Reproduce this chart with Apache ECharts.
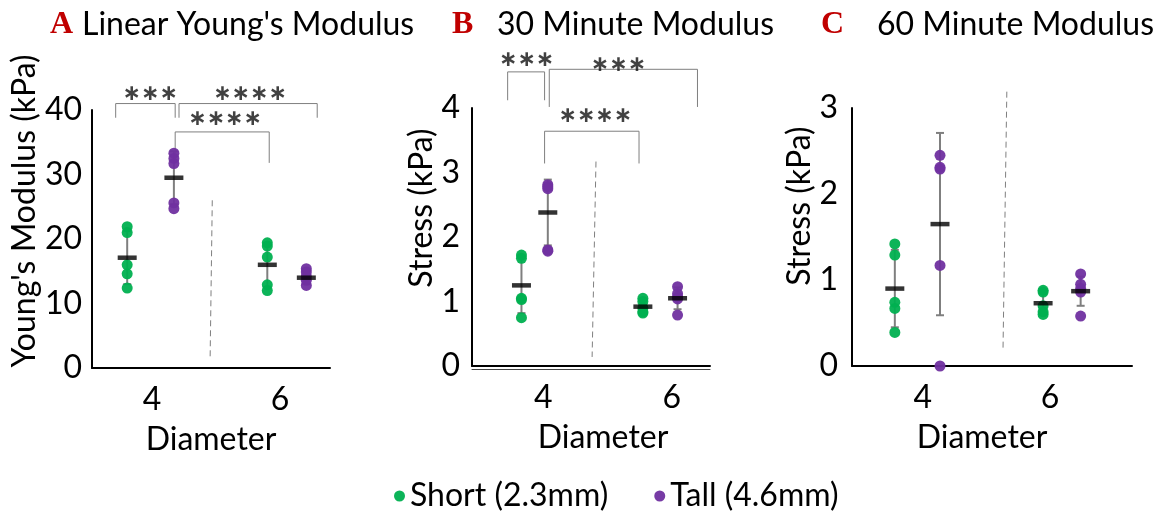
<!DOCTYPE html>
<html><head><meta charset="utf-8">
<script src="https://cdn.jsdelivr.net/npm/echarts@6/dist/echarts.min.js"></script>
<style>html,body{margin:0;padding:0;background:#fff}#c{width:1163px;height:513px}</style>
</head><body><div id="c"></div>
<script>
// ---------------- DATA ----------------
const diameterTicks = [4, 6];
const seriesNames = ['Short (2.3mm)', 'Tall (4.6mm)'];
const panelLetters = ['A', 'B', 'C'];
const panelTitles = ["Linear Young's Modulus", '30 Minute Modulus', '60 Minute Modulus'];
const yTitles = ["Young's Modulus (kPa)", 'Stress (kPa)', 'Stress (kPa)'];
const yMax = [40, 4, 3];
const yStep = [10, 1, 1];

// Panel A (x positions in diameter units, values in kPa)
const A_shortX = [3.61, 5.80];
const A_tallX = [4.34, 6.41];
const A_short4 = [21.9, 21.0, 16.0, 14.6, 12.4];
const A_short6 = [19.4, 18.9, 17.2, 12.9, 12.0];
const A_tall4 = [33.3, 32.5, 31.7, 25.6, 24.7];
const A_tall6 = [15.4, 14.9, 14.2, 13.6, 12.8];
const A_shortMean = [17.1, 16.0];
const A_tallMean = [29.5, 14.0];
const A_shortSD = [4.1, 3.4];
const A_tallSD = [4.1, 1.0];

// Panel B
const B_shortX = [3.66, 5.55];
const B_tallX = [4.07, 6.09];
const B_short4 = [1.72, 1.67, 1.05, 1.03, 0.75];
const B_short6 = [1.05, 1.00, 0.90, 0.84, 0.82];
const B_tall4 = [2.81, 2.78, 2.75, 1.80, 1.78];
const B_tall6 = [1.23, 1.12, 1.07, 1.04, 0.79];
const B_shortMean = [1.25, 0.92];
const B_tallMean = [2.38, 1.05];
const B_shortSD = [0.43, 0.10];
const B_tallSD = [0.51, 0.17];

// Panel C
const C_shortX = [3.56, 5.89];
const C_tallX = [4.27, 6.48];
const C_short4 = [1.42, 1.29, 0.74, 0.67, 0.39];
const C_short6 = [0.88, 0.86, 0.70, 0.63, 0.60];
const C_tall4 = [2.45, 2.31, 2.29, 1.17, 0.0];
const C_tall6 = [1.07, 0.95, 0.90, 0.86, 0.58];
const C_shortMean = [0.90, 0.73];
const C_tallMean = [1.65, 0.87];
const C_shortSD = [0.45, 0.12];
const C_tallSD = [1.06, 0.17];

// Significance brackets [x1, x2, yTop, yLegEnd] and star labels [x, y, text]
const A_brackets = [[3.43, 4.36, 41.0, 38.8], [4.42, 6.58, 41.0, 38.8], [4.36, 5.83, 36.6, 31.8]];
const A_stars = [[3.97, 42.4, '∗∗∗'], [5.53, 42.5, '∗∗∗∗'], [5.14, 38.6, '∗∗∗∗']];
const B_brackets = [[3.445, 4.02, 4.56, 4.12], [4.093, 6.40, 4.60, 4.016], [4.02, 5.49, 3.64, 3.14]];
const B_stars = [[3.74, 4.74, '∗∗∗'], [5.17, 4.67, '∗∗∗'], [4.81, 3.87, '∗∗∗∗']];
const C_brackets = [];
const C_stars = [];

// Dashed separators [xTop, yTop, xBottom, yBottom]
const A_sep = [4.94, 26.0, 4.906, 1.24];
const B_sep = [4.82, 3.17, 4.76, 0.14];
const C_sep = [5.32, 3.19, 5.26, 0.19];

// x-axis ranges (diameter units)
const xRange = [[3.06, 6.78], [2.89, 6.595], [2.887, 7.287]];

// ---------------- STYLE ----------------
const GREEN = '#00B050', PURPLE = '#7030A0', GREY = '#7f7f7f';
const FONT = 'Lato';
const FS = 32;
const grids = [
  {left: 92, top: 110, width: 238, height: 258},
  {left: 472, top: 108, width: 238, height: 258},
  {left: 852, top: 108, width: 280, height: 258}
];
const nameGaps = [50, 32, 34];
const nameShift = [56, 58, 62];
const labelMargins = [10, 12, 14];
const nameXPad = [0, 24, -20];

const panels = [
  {sx: A_shortX, tx: A_tallX, s: [A_short4, A_short6], t: [A_tall4, A_tall6], sm: A_shortMean, tm: A_tallMean, ssd: A_shortSD, tsd: A_tallSD, br: A_brackets, st: A_stars, sep: A_sep},
  {sx: B_shortX, tx: B_tallX, s: [B_short4, B_short6], t: [B_tall4, B_tall6], sm: B_shortMean, tm: B_tallMean, ssd: B_shortSD, tsd: B_tallSD, br: B_brackets, st: B_stars, sep: B_sep},
  {sx: C_shortX, tx: C_tallX, s: [C_short4, C_short6], t: [C_tall4, C_tall6], sm: C_shortMean, tm: C_tallMean, ssd: C_shortSD, tsd: C_tallSD, br: C_brackets, st: C_stars, sep: C_sep}
];

function errRender(params, api) {
  const x = api.value(0), lo = api.value(1), hi = api.value(2);
  const a = api.coord([x, lo]), b = api.coord([x, hi]);
  const cap = 4, st = {stroke: GREY, lineWidth: 2};
  return {type: 'group', children: [
    {type: 'line', shape: {x1: a[0], y1: a[1], x2: b[0], y2: b[1]}, style: st},
    {type: 'line', shape: {x1: a[0] - cap, y1: a[1], x2: a[0] + cap, y2: a[1]}, style: st},
    {type: 'line', shape: {x1: b[0] - cap, y1: b[1], x2: b[0] + cap, y2: b[1]}, style: st}
  ]};
}

const xAxes = [], yAxes = [], series = [], titles = [];
panels.forEach((p, i) => {
  xAxes.push({
    type: 'value', gridIndex: i, min: xRange[i][0], max: xRange[i][1],
    name: 'Diameter', nameLocation: 'middle', nameGap: 56,
    nameTextStyle: {fontFamily: FONT, fontSize: FS, color: '#000', padding: nameXPad[i] >= 0 ? [0, 0, 0, nameXPad[i]] : [0, -nameXPad[i], 0, 0]},
    axisLine: {show: true, onZero: false, lineStyle: {color: '#000', width: 2}},
    axisTick: {show: false}, splitLine: {show: false},
    axisLabel: {customValues: diameterTicks, fontFamily: FONT, fontSize: FS, color: '#000', margin: 16}
  });
  yAxes.push({
    type: 'value', gridIndex: i, min: 0, max: yMax[i], interval: yStep[i],
    name: yTitles[i], nameLocation: 'middle', nameGap: nameGaps[i],
    nameTextStyle: {fontFamily: FONT, fontSize: FS, color: '#000', padding: [0, 0, 0, nameShift[i]]},
    axisLine: {show: true, lineStyle: {color: '#000', width: 2}},
    axisTick: {show: false}, splitLine: {show: false},
    axisLabel: {fontFamily: FONT, fontSize: FS, color: '#000', margin: labelMargins[i]}
  });
  const errData = [];
  [0, 1].forEach(g => {
    errData.push([p.sx[g], p.sm[g] - p.ssd[g], p.sm[g] + p.ssd[g]]);
    errData.push([p.tx[g], p.tm[g] - p.tsd[g], p.tm[g] + p.tsd[g]]);
  });
  series.push({type: 'custom', xAxisIndex: i, yAxisIndex: i, renderItem: errRender, data: errData, z: 2, clip: false, silent: true});
  const sData = [], tData = [];
  [0, 1].forEach(g => {
    p.s[g].forEach(v => sData.push([p.sx[g], v]));
    p.t[g].forEach(v => tData.push([p.tx[g], v]));
  });
  series.push({type: 'scatter', name: seriesNames[0], xAxisIndex: i, yAxisIndex: i, data: sData, symbolSize: 11, itemStyle: {color: GREEN, opacity: 0.95}, z: 3, clip: false});
  series.push({type: 'scatter', name: seriesNames[1], xAxisIndex: i, yAxisIndex: i, data: tData, symbolSize: 11, itemStyle: {color: PURPLE, opacity: 0.95}, z: 3, clip: false});
  const mData = [];
  [0, 1].forEach(g => { mData.push([p.sx[g], p.sm[g]]); mData.push([p.tx[g], p.tm[g]]); });
  series.push({type: 'scatter', name: 'mean', xAxisIndex: i, yAxisIndex: i, data: mData, symbol: 'rect', symbolSize: [19, 4.5], itemStyle: {color: '#000'}, z: 4, clip: false});
  series.push({type: 'line', xAxisIndex: i, yAxisIndex: i, data: [[p.sep[0], p.sep[1]], [p.sep[2], p.sep[3]]], symbol: 'none', lineStyle: {color: GREY, width: 1, type: [6, 4]}, clip: false, silent: true, z: 1});
  if (p.br.length) {
    const bData = [];
    p.br.forEach(b => { bData.push([b[0], b[3]], [b[0], b[2]], [b[1], b[2]], [b[1], b[3]], '-'); });
    series.push({type: 'line', xAxisIndex: i, yAxisIndex: i, data: bData, symbol: 'none', connectNulls: false, lineStyle: {color: GREY, width: 1}, clip: false, silent: true, z: 1});
    series.push({type: 'scatter', xAxisIndex: i, yAxisIndex: i, data: p.st.map(s => ({value: [s[0], s[1]], label: {formatter: s[2]}})), symbolSize: 1, itemStyle: {color: 'rgba(0,0,0,0)'}, clip: false, silent: true, z: 5,
      label: {show: true, position: 'inside', fontFamily: 'DejaVu Sans', fontWeight: 'bold', fontSize: 22, color: '#111'}});
  }
});
// second (double) bottom line on panel B
xAxes.push({
  type: 'value', gridIndex: 1, min: xRange[1][0], max: xRange[1][1], position: 'bottom', offset: 3,
  axisLine: {show: true, onZero: false, lineStyle: {color: '#444', width: 1}},
  axisTick: {show: false}, axisLabel: {show: false}, splitLine: {show: false}
});

const letterLeft = [50, 452, 821];
const textLeft = [82, 497, 877];
panelLetters.forEach((l, i) => {
  titles.push({text: l, left: letterLeft[i], top: 8, padding: 0, textStyle: {fontFamily: 'Liberation Serif', fontWeight: 'bold', fontSize: 32, color: '#C00000', lineHeight: 34}});
  titles.push({text: panelTitles[i], left: textLeft[i], top: 8, padding: 0, textStyle: {fontFamily: FONT, fontWeight: 'normal', fontSize: FS, color: '#000', lineHeight: 34}});
});

const chart = echarts.init(document.getElementById('c'), null, {renderer: 'canvas'});
chart.setOption({
  animation: false,
  backgroundColor: '#fff',
  title: titles,
  grid: grids,
  xAxis: xAxes,
  yAxis: yAxes,
  legend: {data: [{name: seriesNames[0], icon: 'circle'}, {name: seriesNames[1], icon: 'circle'}], left: 389, top: 475, itemWidth: 11, itemHeight: 11, itemGap: 46,
    textStyle: {fontFamily: FONT, fontSize: FS, color: '#000'}, selectedMode: false},
  series: series
});
</script></body></html>
